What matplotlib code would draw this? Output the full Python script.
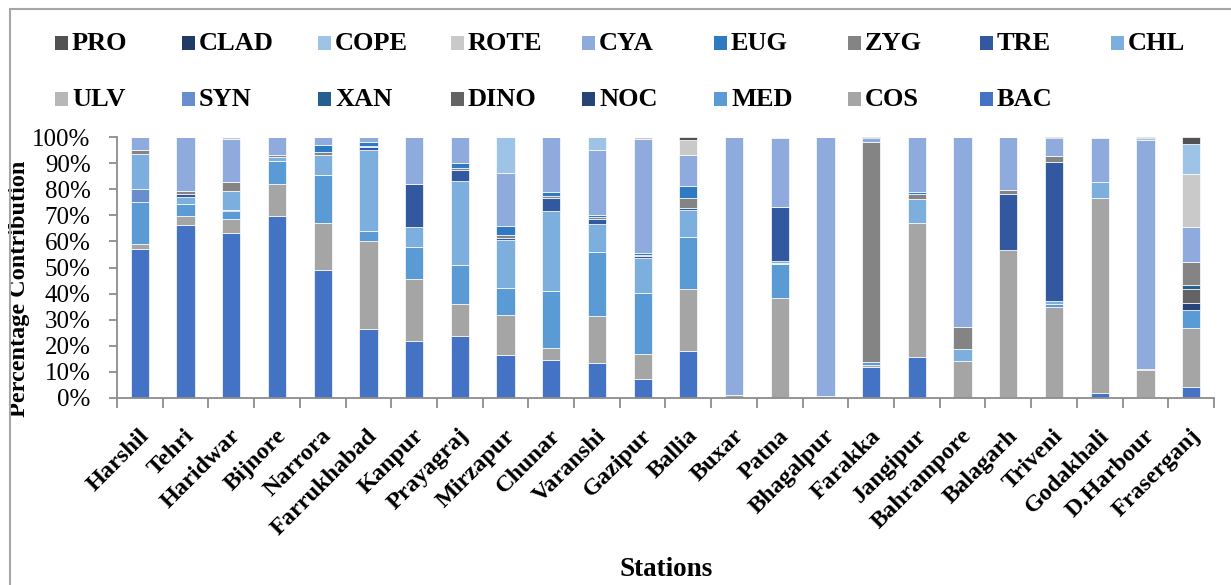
import matplotlib
matplotlib.use('Agg')
import matplotlib.pyplot as plt
import numpy as np
from matplotlib.patches import Rectangle
from matplotlib.ticker import FuncFormatter, MultipleLocator
import matplotlib.transforms as mtransforms

stations = ["Harshil", "Tehri", "Haridwar", "Bijnore", "Narrora", "Farrukhabad",
            "Kanpur", "Prayagraj", "Mirzapur", "Chunar", "Varanshi", "Gazipur",
            "Ballia", "Buxar", "Patna", "Bhagalpur", "Farakka", "Jangipur",
            "Bahrampore", "Balagarh", "Triveni", "Godakhali", "D.Harbour", "Fraserganj"]

# stacked from bottom to top
BAC  = [57.0, 66.3, 63.5, 69.7, 49.0, 26.4, 21.8, 23.8, 16.5, 14.6, 13.4, 7.2, 18.0, 0, 0, 0, 11.9, 15.7, 0, 0.3, 0, 1.9, 0.3, 4.2]
COS  = [1.9, 3.3, 5.3, 12.4, 18.2, 34.0, 23.9, 12.3, 15.0, 4.4, 17.9, 9.5, 23.6, 1.0, 38.4, 0.6, 0.9, 51.5, 14.2, 56.5, 34.9, 74.9, 10.4, 22.7]
MED  = [16.2, 4.6, 3.1, 8.7, 18.2, 3.7, 12.2, 15.0, 10.5, 22.1, 24.6, 23.5, 20.1, 0, 12.9, 0, 0.9, 0, 0, 0, 1.2, 0, 0, 6.8]
NOC  = [0, 0, 0, 0, 0, 0, 0, 0, 0, 0, 0, 0, 0, 0, 0, 0, 0, 0, 0, 0, 0, 0, 0, 2.8]
DINO = [0, 0, 0, 0, 0, 0, 0, 0, 0, 0, 0, 0, 0, 0, 0, 0, 0, 0, 0, 0, 0, 0, 0, 5.4]
XAN  = [0, 0, 0.3, 0, 0, 0, 0, 0, 0, 0, 0, 0, 0, 0, 0, 0, 0, 0, 0, 0, 0, 0, 0, 1.4]
SYN  = [5.1, 0, 0, 0, 0, 0, 0, 0, 0, 0, 0, 0, 0, 0, 0, 0, 0, 0, 0, 0, 0, 0, 0, 0]
ULV  = [0, 0, 0, 0, 0, 0, 0, 0, 0, 0, 0, 0, 0, 0, 0.6, 0, 0, 0, 0, 0, 0, 0, 0, 0]
CHL  = [13.3, 2.9, 7.3, 1.7, 7.6, 31.4, 7.6, 32.0, 18.0, 30.7, 10.6, 13.4, 10.1, 0, 0.6, 0, 0, 9.2, 4.4, 0, 0.9, 6.0, 0, 0]
TRE  = [0, 0.9, 0, 0, 0, 1.0, 16.4, 4.1, 0.8, 4.8, 2.1, 0.7, 1.1, 0, 20.7, 0, 0, 0, 0, 21.4, 53.4, 0, 0, 0]
ZYG  = [1.5, 1.2, 3.6, 0.6, 1.4, 0.5, 0, 0.8, 1.2, 0.9, 0.6, 0.6, 3.5, 0.2, 0, 0, 84.4, 1.6, 8.7, 1.5, 2.3, 0, 0.4, 8.8]
EUG  = [0, 0, 0, 0, 2.4, 1.5, 0, 2.0, 3.3, 1.3, 0.8, 0.8, 4.8, 0, 0, 0, 0, 0.9, 0, 0, 0, 0, 0, 0]
CYA  = [5.0, 20.8, 16.4, 6.9, 3.2, 1.9, 18.1, 10.0, 20.2, 21.2, 25.1, 43.4, 11.8, 98.8, 26.4, 99.4, 1.6, 21.1, 72.7, 20.3, 7.0, 16.9, 87.6, 13.4]
ROTE = [0, 0, 0.8, 0, 0, 0, 0, 0, 0, 0, 0, 0.9, 5.6, 0, 0.4, 0, 0, 0, 0, 0, 0, 0.3, 0, 20.5]
COPE = [0, 0, 0, 0, 0, 0, 0, 0, 13.8, 0, 4.9, 0, 0, 0, 0, 0, 0, 0, 0, 0, 0, 0, 0.6, 11.2]
CLAD = [0, 0, 0, 0, 0, 0, 0, 0, 0, 0, 0, 0, 0, 0, 0, 0, 0, 0, 0, 0, 0, 0, 0, 0]
PRO  = [0, 0, 0, 0, 0, 0, 0, 0, 0, 0, 0, 0, 1.3, 0, 0, 0, 0.3, 0, 0, 0, 0.3, 0, 0.5, 2.8]

series_names = ["BAC", "COS", "MED", "NOC", "DINO", "XAN", "SYN", "ULV", "CHL",
                "TRE", "ZYG", "EUG", "CYA", "ROTE", "COPE", "CLAD", "PRO"]
series_vals = [BAC, COS, MED, NOC, DINO, XAN, SYN, ULV, CHL, TRE, ZYG, EUG, CYA, ROTE, COPE, CLAD, PRO]
colors = {
    "BAC": "#4472C4", "COS": "#A5A5A5", "MED": "#5B9BD5", "NOC": "#264478",
    "DINO": "#636363", "XAN": "#255E91", "SYN": "#698ED0", "ULV": "#B7B7B7",
    "CHL": "#7CAFDD", "TRE": "#3259A0", "ZYG": "#848484", "EUG": "#2E7BC4",
    "CYA": "#8FAADC", "ROTE": "#C9C9C9", "COPE": "#9DC3E6", "CLAD": "#223A66",
    "PRO": "#525252",
}
legend_rows = [["PRO", "CLAD", "COPE", "ROTE", "CYA", "EUG", "ZYG", "TRE", "CHL"],
               ["ULV", "SYN", "XAN", "DINO", "NOC", "MED", "COS", "BAC"]]

plt.rcParams['font.family'] = ['Liberation Serif', 'DejaVu Serif']

W, H = 1231, 585
fig = plt.figure(figsize=(W / 100, H / 100), dpi=100)
ax = fig.add_axes([117 / W, 1 - 398 / H, (1214 - 117) / W, (398 - 137) / H])

data = np.array(series_vals, dtype=float)
pct = data / data.sum(axis=0) * 100
x = np.arange(len(stations))
bottom = np.zeros(len(stations))
for name, vals in zip(series_names, pct):
    ax.bar(x, vals, 0.4, bottom=bottom, color=colors[name], edgecolor='white',
           linewidth=0.5, label=name, zorder=2)
    bottom += vals

ax.set_xlim(-0.5, len(stations) - 0.5)
ax.set_ylim(0, 100)
ax.yaxis.set_major_locator(MultipleLocator(10))
ax.yaxis.set_major_formatter(FuncFormatter(lambda v, p: f"{int(round(v))}%"))
ax.tick_params(axis='y', labelsize=18, length=6, width=1.3, color='#8C8C8C',
               direction='out', pad=13)

ax.set_xticks(x)
ax.set_xticklabels(stations, rotation=45, ha='right', va='center',
                   rotation_mode='anchor', fontsize=17.5, fontweight='bold')
ax.tick_params(axis='x', which='major', length=0, pad=25)
ax.set_xticks(np.arange(-0.5, len(stations), 1.0), minor=True)
ax.tick_params(axis='x', which='minor', length=7, width=1.3, color='#8C8C8C',
               direction='out')
offset = mtransforms.ScaledTranslation(6 / 100, 0, fig.dpi_scale_trans)
for lbl in ax.get_xticklabels():
    lbl.set_transform(lbl.get_transform() + offset)

for s in ['top', 'right']:
    ax.spines[s].set_visible(False)
for s in ['left', 'bottom']:
    ax.spines[s].set_color('#8C8C8C')
    ax.spines[s].set_linewidth(1.3)

ax.set_ylabel("Percentage Contribution", fontsize=17.5, fontweight='bold')
ax.yaxis.set_label_coords((30 - 117) / (1214 - 117), (398 - 289) / (398 - 137))
fig.text(666 / W, 1 - 570 / H, "Stations", ha='center', va='center',
         fontsize=19.5, fontweight='bold')

# legend drawn manually in Excel style
col_x = [55, 182, 318, 451, 582, 714, 848, 980, 1111]
row_y = [43, 99]
sq = 13
for r, row in enumerate(legend_rows):
    for c, name in enumerate(row):
        x0 = col_x[c]
        yc = row_y[r]
        fig.add_artist(Rectangle((x0 / W, 1 - (yc + sq / 2) / H), sq / W, sq / H,
                                 transform=fig.transFigure, facecolor=colors[name],
                                 edgecolor='none'))
        fig.text((x0 + sq + 4) / W, 1 - yc / H, name, ha='left', va='center',
                 fontsize=19, fontweight='bold')

# chart-area border
fig.add_artist(Rectangle((10 / W, -0.05), 1.2, 1.05 - 9.5 / H, transform=fig.transFigure,
                         fill=False, edgecolor='#A6A6A6', linewidth=1.5))

fig.savefig("out.png", dpi=100)
